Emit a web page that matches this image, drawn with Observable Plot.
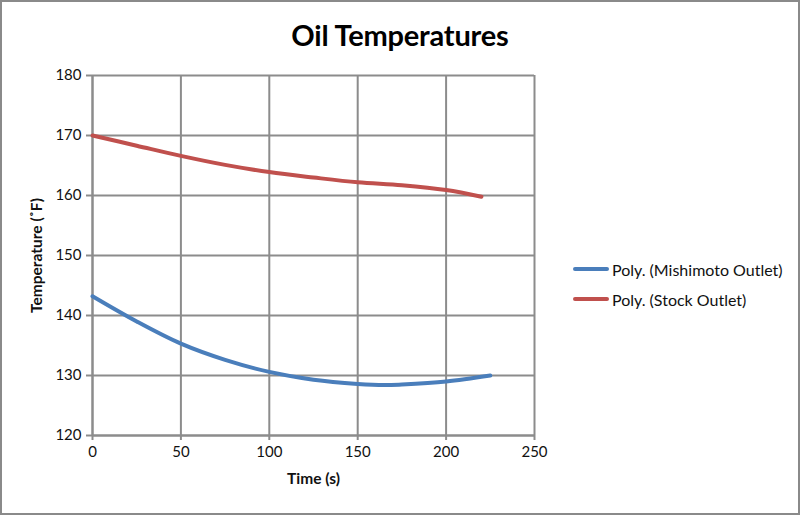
<!DOCTYPE html>
<html>
<head>
<meta charset="utf-8">
<script src="https://cdn.jsdelivr.net/npm/d3@7"></script>
<script src="https://cdn.jsdelivr.net/npm/@observablehq/plot@0.6"></script>
<style>
  html, body { margin: 0; padding: 0; background: #fff; }
  #frame { position: relative; width: 800px; height: 515px; box-sizing: border-box; border: 2px solid #8a8a8a; font-family: Lato, "Open Sans", sans-serif; overflow: hidden; }
  #title { position: absolute; left: 0; right: 0; top: 15px; text-align: center; font-size: 29px; font-weight: bold; color: #000; letter-spacing: -0.2px; }
  #chart { position: absolute; left: -4px; top: 54px; }
  #legend { position: absolute; left: 571px; top: 252px; font-size: 16px; color: #111; }
  .item { display: flex; align-items: center; height: 30px; }
  .swatch { width: 36px; height: 4px; margin-right: 3px; border-radius: 2px; }
  #chart svg text { fill: #111; }
  #chart svg [aria-label="x-axis label"] text,
  #chart svg [aria-label="y-axis label"] text { font-weight: bold; font-size: 15.5px; }
</style>
</head>
<body>
<div id="frame">
  <div id="title">Oil Temperatures</div>
  <div id="chart"></div>
  <div id="legend"></div>
</div>
<script>
const seriesNames = ["Poly. (Mishimoto Outlet)", "Poly. (Stock Outlet)"];
const seriesColors = ["#4a7ebb", "#c0504d"];

const mishimotoTime = [0, 25, 50, 75, 100, 125, 150, 165, 175, 200, 225];
const mishimotoTemp = [143.2, 139.0, 135.3, 132.6, 130.6, 129.3, 128.6, 128.4, 128.5, 129.0, 130.0];

const stockTime = [0, 25, 50, 75, 100, 125, 150, 175, 200, 220];
const stockTemp = [170.0, 168.3, 166.6, 165.1, 163.9, 163.0, 162.2, 161.7, 160.9, 159.8];

const xTicks = [0, 50, 100, 150, 200, 250];
const yTicks = [120, 130, 140, 150, 160, 170, 180];

const data = [
  ...mishimotoTime.map((t, i) => ({series: seriesNames[0], time: t, temp: mishimotoTemp[i]})),
  ...stockTime.map((t, i) => ({series: seriesNames[1], time: t, temp: stockTemp[i]}))
];

const gridColor = "#8c8c8c";

const chart = Plot.plot({
  width: 800,
  height: 459,
  marginTop: 19,
  marginBottom: 80,
  marginLeft: 94,
  marginRight: 264,
  style: {fontFamily: "Lato, 'Open Sans', sans-serif", fontSize: "15px", background: "transparent"},
  x: {domain: [0, 250]},
  y: {domain: [120, 180]},
  color: {domain: seriesNames, range: seriesColors},
  marks: [
    Plot.gridX(xTicks, {stroke: gridColor, strokeOpacity: 1, strokeWidth: 2}),
    Plot.gridY(yTicks, {stroke: gridColor, strokeOpacity: 1, strokeWidth: 2}),
    Plot.ruleX([0], {stroke: gridColor, strokeWidth: 2}),
    Plot.ruleY([120], {stroke: gridColor, strokeWidth: 2}),
    Plot.axisX(xTicks, {tickSize: 5, tickPadding: 6, stroke: gridColor, strokeWidth: 2, fontSize: 15, label: "Time (s)", labelAnchor: "center", labelOffset: 48, labelArrow: "none"}),
    Plot.axisY(yTicks, {tickSize: 6, tickPadding: 5, stroke: gridColor, strokeWidth: 2, fontSize: 15, label: "Temperature (˚F)", labelAnchor: "center", labelOffset: 62, labelArrow: "none"}),
    Plot.line(data, {x: "time", y: "temp", z: "series", stroke: "series", strokeWidth: 4, curve: "catmull-rom"})
  ]
});
document.getElementById("chart").appendChild(chart);

const legend = document.getElementById("legend");
seriesNames.forEach((name, i) => {
  const item = document.createElement("div");
  item.className = "item";
  const sw = document.createElement("div");
  sw.className = "swatch";
  sw.style.background = seriesColors[i];
  const label = document.createElement("span");
  label.textContent = name;
  item.appendChild(sw);
  item.appendChild(label);
  legend.appendChild(item);
});
</script>
</body>
</html>
